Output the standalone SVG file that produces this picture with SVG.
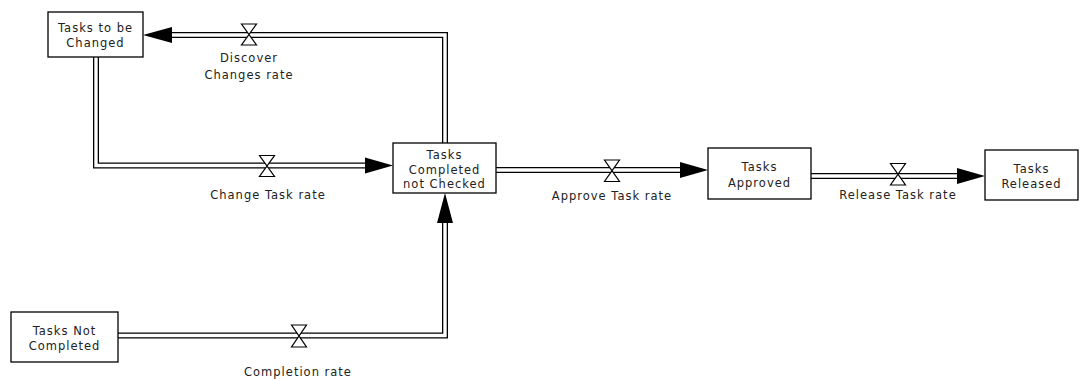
<svg xmlns="http://www.w3.org/2000/svg" width="1080" height="379" viewBox="0 0 1080 379">
<style>
.box{fill:#fff;stroke:#000;stroke-width:1.3}
text{font-family:"DejaVu Sans",Verdana,sans-serif;font-size:11.5px;letter-spacing:1px;fill:#222;text-anchor:middle}
.po{fill:none;stroke:#000;stroke-width:6}
.pi{fill:none;stroke:#fff;stroke-width:3.4}
.ah{fill:#000}
.valve{fill:#fff;stroke:#000;stroke-width:1.2}
</style>
<rect width="1080" height="379" fill="#fff"/>
<g id="connectors">
  <g id="discover-flow">
    <path class="po" d="M445,143 V35 H172"/><path class="pi" d="M445,145 V35 H170"/>
    <path class="ah" d="M143,35 L172,27 L172,43 Z"/>
    <path class="valve" d="M241.5,24 H256.5 L241.5,45 H256.5 Z"/>
    <text x="249" y="62">Discover</text><text x="249" y="79">Changes rate</text>
  </g>
  <g id="change-flow">
    <path class="po" d="M96,57 V165.5 H366"/><path class="pi" d="M96,55 V165.5 H368"/>
    <path class="ah" d="M393,165.5 L365,157.5 L365,173.5 Z"/>
    <path class="valve" d="M259.5,155.5 H274.5 L259.5,176.5 H274.5 Z"/>
    <text x="268" y="199">Change Task rate</text>
  </g>
  <g id="completion-flow">
    <path class="po" d="M118,335.5 H445 V222"/><path class="pi" d="M116,335.5 H445 V220"/>
    <path class="ah" d="M445,193 L437,223 L453,223 Z"/>
    <path class="valve" d="M291.5,325 H306.5 L291.5,347 H306.5 Z"/>
    <text x="298" y="376">Completion rate</text>
  </g>
  <g id="approve-flow">
    <path class="po" d="M496,170 H681"/><path class="pi" d="M494,170 H683"/>
    <path class="ah" d="M708,170 L680,162 L680,178 Z"/>
    <path class="valve" d="M604.5,160 H619.5 L604.5,181.5 H619.5 Z"/>
    <text x="612" y="200">Approve Task rate</text>
  </g>
  <g id="release-flow">
    <path class="po" d="M811,176 H959"/><path class="pi" d="M809,176 H961"/>
    <path class="ah" d="M985,176 L957,168 L957,184 Z"/>
    <path class="valve" d="M890.5,163.5 H905.5 L890.5,185 H905.5 Z"/>
    <text x="898" y="199">Release Task rate</text>
  </g>
</g>
<g id="tasks-to-be-changed">
  <rect class="box" x="48" y="12" width="95" height="45"/>
  <text x="95.5" y="32">Tasks to be</text><text x="95.5" y="47">Changed</text>
</g>
<g id="tasks-completed-not-checked">
  <rect class="box" x="393" y="143" width="103" height="50"/>
  <text x="444.5" y="159">Tasks</text><text x="444.5" y="174">Completed</text><text x="444.5" y="188">not Checked</text>
</g>
<g id="tasks-approved">
  <rect class="box" x="708" y="148" width="103" height="51"/>
  <text x="759.5" y="171">Tasks</text><text x="759.5" y="187">Approved</text>
</g>
<g id="tasks-released">
  <rect class="box" x="985" y="150" width="93" height="50"/>
  <text x="1031.5" y="173">Tasks</text><text x="1031.5" y="188">Released</text>
</g>
<g id="tasks-not-completed">
  <rect class="box" x="11" y="312" width="107" height="50"/>
  <text x="64.5" y="335">Tasks Not</text><text x="64.5" y="350">Completed</text>
</g>
</svg>
